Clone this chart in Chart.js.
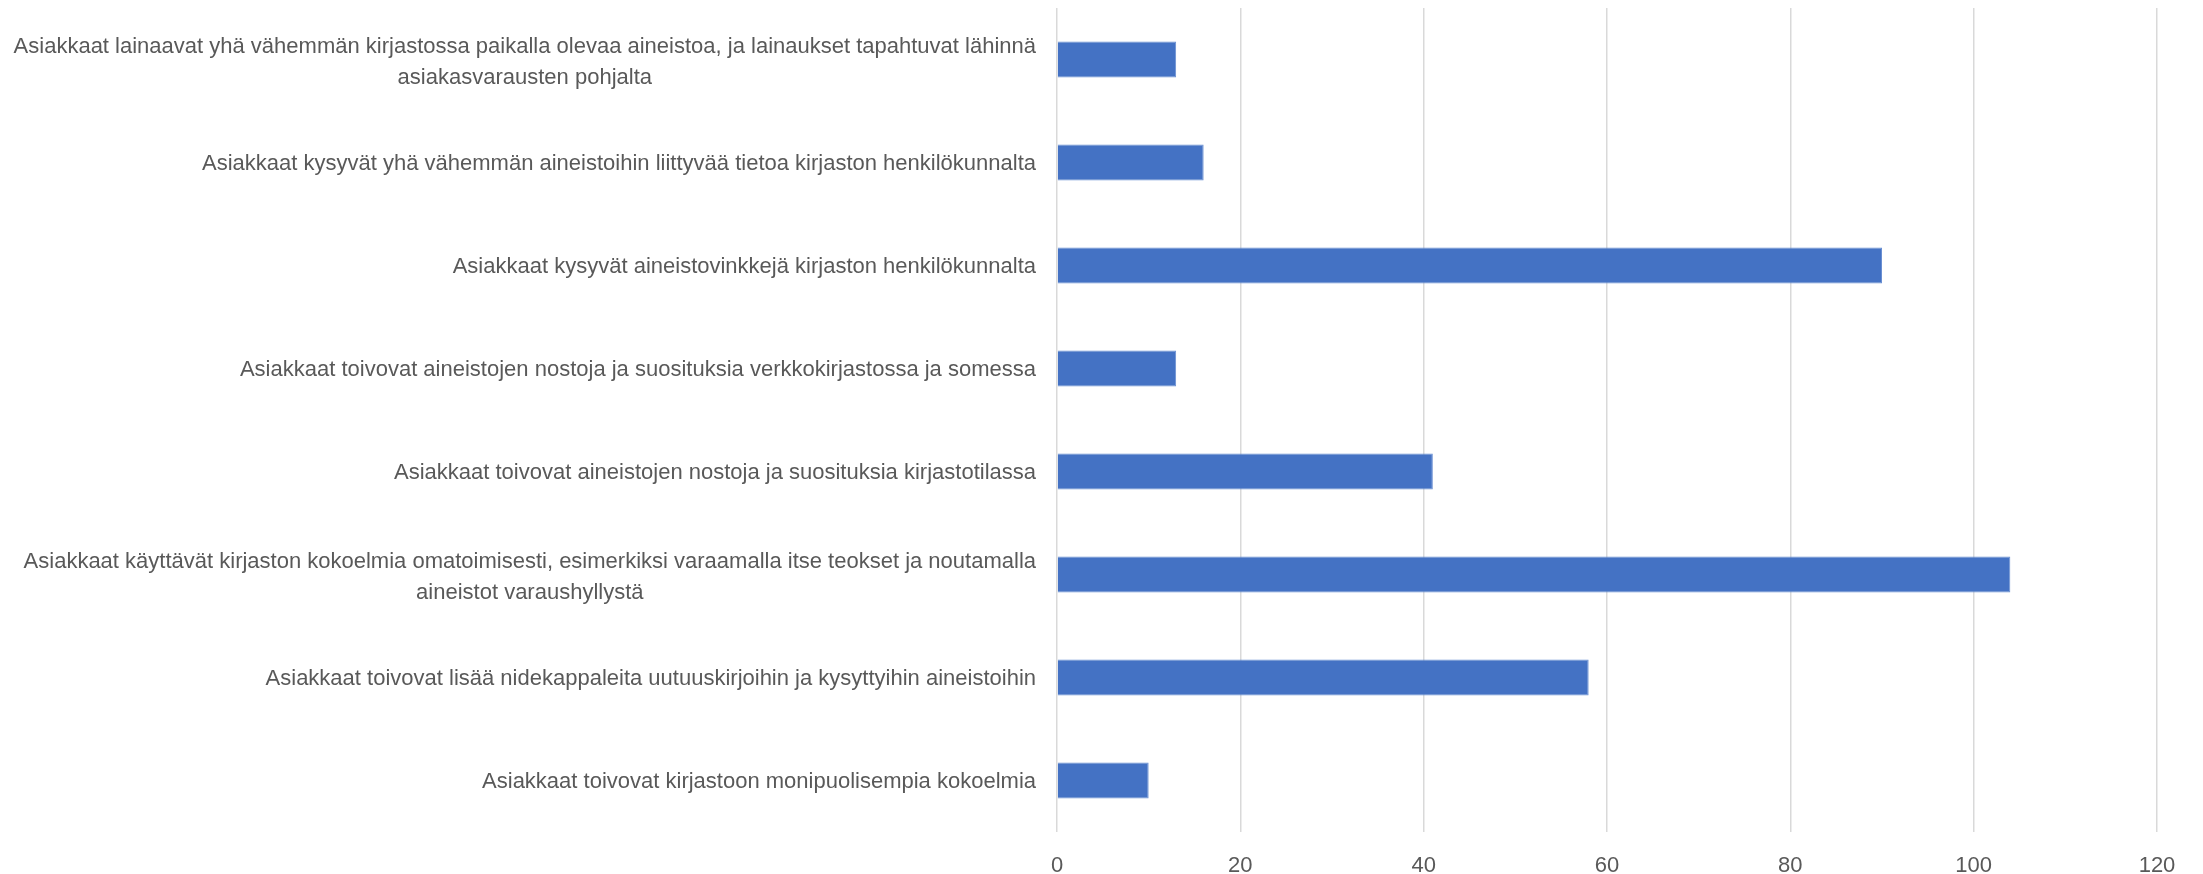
<!DOCTYPE html>
<html>
<head>
<meta charset="utf-8">
<script src="https://cdn.jsdelivr.net/npm/chart.js@4"></script>
<style>
  html, body { margin: 0; padding: 0; background: #fff; }
  #wrap { width: 2203px; height: 874px; }
</style>
</head>
<body>
<div id="wrap"><canvas id="chart"></canvas></div>
<script>
// kategoriat (rivit ylhäältä alas)
const categories = [
    ['Asiakkaat lainaavat yhä vähemmän kirjastossa paikalla olevaa aineistoa, ja lainaukset tapahtuvat lähinnä', 'asiakasvarausten pohjalta'],
    ['Asiakkaat kysyvät yhä vähemmän aineistoihin liittyvää tietoa kirjaston henkilökunnalta'],
    ['Asiakkaat kysyvät aineistovinkkejä kirjaston henkilökunnalta'],
    ['Asiakkaat toivovat aineistojen nostoja ja suosituksia verkkokirjastossa ja somessa'],
    ['Asiakkaat toivovat aineistojen nostoja ja suosituksia kirjastotilassa'],
    ['Asiakkaat käyttävät kirjaston kokoelmia omatoimisesti, esimerkiksi varaamalla itse teokset ja noutamalla', 'aineistot varaushyllystä'],
    ['Asiakkaat toivovat lisää nidekappaleita uutuuskirjoihin ja kysyttyihin aineistoihin'],
    ['Asiakkaat toivovat kirjastoon monipuolisempia kokoelmia']
];
const values = [13, 16, 90, 13, 41, 104, 58, 10];
const xTicks = [0, 20, 40, 60, 80, 100, 120];

const FONT = '"Liberation Sans Narrow", "Liberation Sans", sans-serif';
const TEXT_COLOR = '#595959';
const PLOT_LEFT = 1057;

// piirretään rivien nimet itse, jotta monirivinen teksti keskitetään kuten Excelissä
const labelPlugin = {
    id: 'labels',
    afterDraw(chart) {
        const ctx = chart.ctx;
        const y = chart.scales.y;
        const right = y.right - 21;
        const lineH = 31;
        ctx.save();
        ctx.font = '22px ' + FONT;
        ctx.fillStyle = TEXT_COLOR;
        ctx.textAlign = 'center';
        ctx.textBaseline = 'middle';
        categories.forEach((lines, i) => {
            const cy = y.getPixelForValue(i) + (lines.length > 1 ? 3 : 1);
            const w = Math.max(...lines.map(l => ctx.measureText(l).width));
            const cx = right - w / 2;
            const top = cy - (lines.length - 1) * lineH / 2;
            lines.forEach((l, j) => ctx.fillText(l, cx, top + j * lineH));
        });
        ctx.restore();
    }
};

const ctx = document.getElementById('chart').getContext('2d');
new Chart(ctx, {
    type: 'bar',
    data: {
        labels: categories.map(c => c.join(' ')),
        datasets: [{
            data: values,
            backgroundColor: '#4472C4',
            borderColor: '#6a8fd2',
            borderWidth: 1,
            categoryPercentage: 1,
            barPercentage: 0.35
        }]
    },
    options: {
        indexAxis: 'y',
        responsive: true,
        maintainAspectRatio: false,
        animation: false,
        layout: { padding: { top: 8, right: 46, bottom: 0, left: 0 } },
        plugins: { legend: { display: false }, tooltip: { enabled: false } },
        scales: {
            x: {
                min: 0,
                max: 120,
                afterBuildTicks: s => { s.ticks = xTicks.map(v => ({ value: v })); },
                afterFit: s => { s.height = 42; },
                grid: { color: '#d9d9d9', lineWidth: 1.5, drawTicks: false },
                border: { display: false },
                ticks: { color: TEXT_COLOR, font: { family: FONT, size: 22 }, padding: 21 }
            },
            y: {
                grid: { display: false },
                border: { display: false },
                ticks: { display: false },
                afterFit: s => { s.width = PLOT_LEFT; }
            }
        }
    },
    plugins: [labelPlugin]
});
</script>
</body>
</html>
